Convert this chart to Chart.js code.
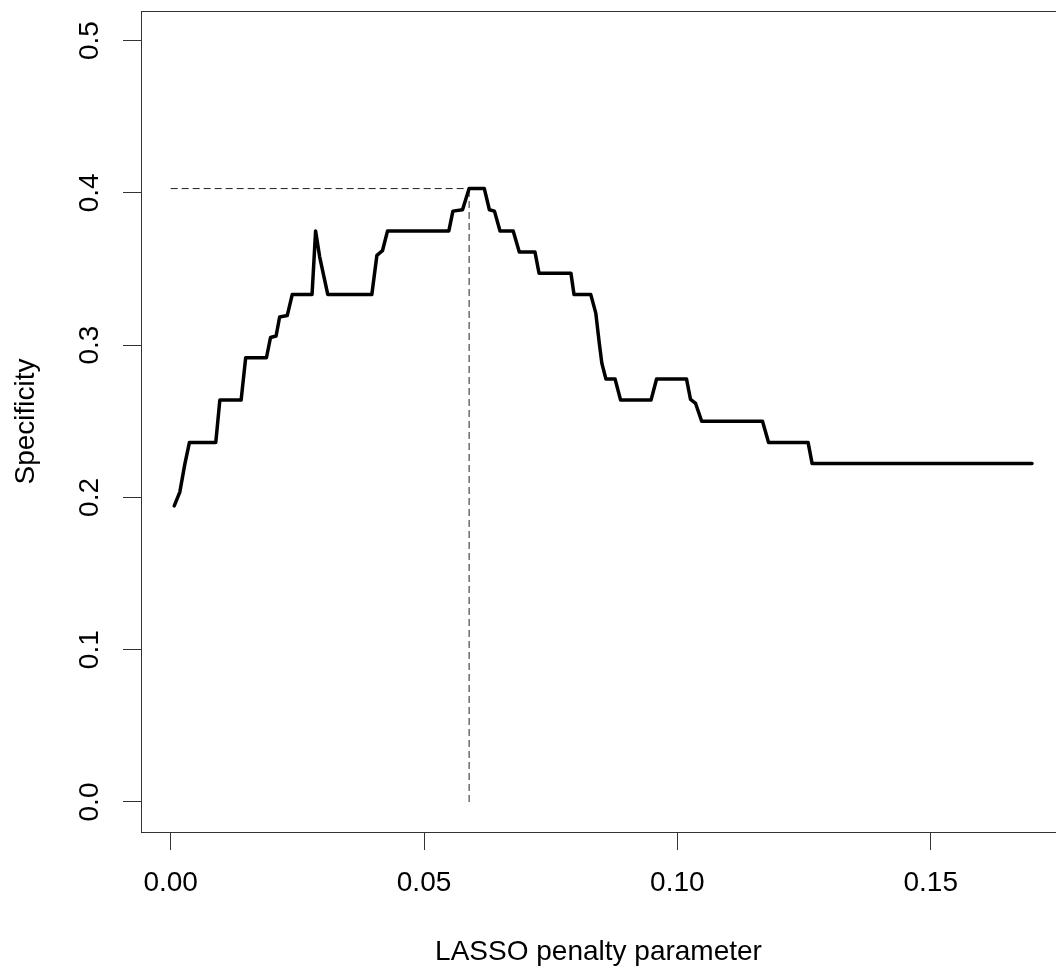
<!DOCTYPE html>
<html>
<head>
<meta charset="utf-8">
<title>Specificity vs LASSO penalty</title>
<script src="https://cdn.jsdelivr.net/npm/chart.js@4.4.1/dist/chart.umd.min.js"></script>
<style>
  html, body { margin: 0; padding: 0; background: #fff; }
  #wrap { width: 1056px; height: 969px; }
</style>
</head>
<body>
<div id="wrap"><canvas id="specChart" width="1056" height="969"></canvas></div>
<script>
// penalty values (x) and specificity (y)
const lambdaVals = [0.0007, 0.0018, 0.0028, 0.0037, 0.0089, 0.0097, 0.0139, 0.0148, 0.0189, 0.0197,
  0.0208, 0.0215, 0.0230, 0.0240, 0.0279, 0.0286, 0.0294, 0.0310, 0.0397, 0.0407,
  0.0418, 0.0428, 0.0549, 0.0557, 0.0576, 0.0589, 0.0619, 0.0629, 0.0639, 0.0650,
  0.0676, 0.0688, 0.0719, 0.0727, 0.0790, 0.0796, 0.0829, 0.0839, 0.0846, 0.0851,
  0.0859, 0.0877, 0.0888, 0.0948, 0.0959, 0.1018, 0.1026, 0.1036, 0.1048, 0.1168,
  0.1180, 0.1258, 0.1266, 0.1700];
const specVals = [0.1944, 0.2035, 0.2220, 0.2361, 0.2361, 0.2639, 0.2639, 0.2917, 0.2917, 0.3050,
  0.3060, 0.3185, 0.3194, 0.3333, 0.3333, 0.3750, 0.3580, 0.3333, 0.3333, 0.3590,
  0.3620, 0.3750, 0.3750, 0.3880, 0.3889, 0.4028, 0.4028, 0.3889, 0.3880, 0.3750,
  0.3750, 0.3611, 0.3611, 0.3472, 0.3472, 0.3333, 0.3333, 0.3210, 0.3010, 0.2880,
  0.2778, 0.2778, 0.2639, 0.2639, 0.2778, 0.2778, 0.2643, 0.2617, 0.2500, 0.2500,
  0.2361, 0.2361, 0.2222, 0.2222];

// chosen penalty and its specificity (dashed guides)
const bestLambda = 0.0589;
const bestSpec = 0.4028;

const xTicks = [0, 0.05, 0.10, 0.15];
const yTicks = [0, 0.1, 0.2, 0.3, 0.4, 0.5];

const fontFamily = '"Liberation Sans", Arial, sans-serif';
const axisColor = '#333';

// the plot box runs past the right edge of the picture, so the x range stops at the canvas edge
const xMin = -0.00586;
const xMax = 0.17473;

let curve = lambdaVals.map((x, i) => ({ x: x, y: specVals[i] }));

var ctx = document.getElementById('specChart').getContext('2d');

var specChart = new Chart(ctx, {
    type: 'line',
    data: {
        datasets: [{
            data: curve,
            borderColor: '#000',
            borderWidth: 3.5,
            pointRadius: 0,
            tension: 0,
            borderJoinStyle: 'round',
            borderCapStyle: 'round'
        }, {
            data: [{ x: 0, y: bestSpec }, { x: bestLambda, y: bestSpec }],
            borderColor: '#222',
            borderWidth: 1,
            borderDash: [7, 4],
            pointRadius: 0
        }, {
            data: [{ x: bestLambda, y: 0 }, { x: bestLambda, y: bestSpec }],
            borderColor: '#222',
            borderWidth: 1,
            borderDash: [7, 4],
            pointRadius: 0
        }]
    },
    options: {
        responsive: false,
        animation: false,
        layout: { padding: { top: 11, left: 0, right: 0, bottom: 0 } },
        plugins: {
            legend: { display: false },
            tooltip: { enabled: false }
        },
        scales: {
            x: {
                type: 'linear',
                position: 'bottom',
                min: xMin,
                max: xMax,
                afterBuildTicks: (scale) => {
                    scale.ticks = xTicks.map(v => ({ value: v }));
                },
                afterFit: (scale) => {
                    scale.height = 137;
                    scale.paddingLeft = 0;
                    scale.paddingRight = 0;
                },
                ticks: {
                    color: '#000',
                    padding: 16,
                    maxRotation: 0,
                    autoSkip: false,
                    font: { family: fontFamily, size: 28 },
                    callback: (v) => Number(v).toFixed(2)
                },
                grid: {
                    display: true,
                    drawOnChartArea: false,
                    drawTicks: true,
                    tickLength: 18,
                    tickColor: axisColor,
                    lineWidth: 1
                },
                border: { display: true, color: axisColor, width: 1 },
                title: {
                    display: true,
                    text: 'LASSO penalty parameter',
                    color: '#000',
                    padding: { top: 0, bottom: 0 },
                    font: { family: fontFamily, size: 28 }
                }
            },
            xTop: {
                type: 'linear',
                position: 'top',
                min: xMin,
                max: xMax,
                afterFit: (scale) => {
                    scale.height = 0;
                    scale.paddingLeft = 0;
                    scale.paddingRight = 0;
                },
                ticks: { display: false },
                grid: { display: false },
                border: { display: true, color: axisColor, width: 1 }
            },
            y: {
                type: 'linear',
                position: 'left',
                min: -0.0197,
                max: 0.5194,
                afterBuildTicks: (scale) => {
                    scale.ticks = yTicks.map(v => ({ value: v }));
                },
                afterFit: (scale) => {
                    scale.width = 141;
                    scale.paddingTop = 0;
                    scale.paddingBottom = 0;
                },
                ticks: {
                    color: '#000',
                    padding: 13,
                    minRotation: 90,
                    maxRotation: 90,
                    crossAlign: 'center',
                    autoSkip: false,
                    font: { family: fontFamily, size: 28 },
                    callback: (v) => Number(v).toFixed(1)
                },
                grid: {
                    display: true,
                    drawOnChartArea: false,
                    drawTicks: true,
                    tickLength: 18,
                    tickColor: axisColor,
                    lineWidth: 1
                },
                border: { display: true, color: axisColor, width: 1 },
                title: {
                    display: true,
                    text: 'Specificity',
                    color: '#000',
                    padding: { top: 9, bottom: 0 },
                    font: { family: fontFamily, size: 28 }
                }
            }
        }
    }
});
</script>
</body>
</html>
